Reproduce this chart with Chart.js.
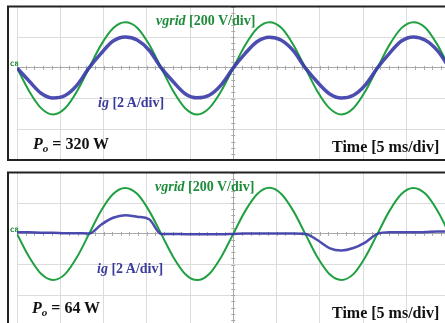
<!DOCTYPE html>
<html>
<head>
<meta charset="utf-8">
<script src="https://cdn.jsdelivr.net/npm/chart.js@4.4.1/dist/chart.umd.min.js"></script>
<style>
  body { margin: 0; width: 445px; height: 323px; overflow: hidden; background: #fff; position: relative; font-family: "Liberation Serif", "Times New Roman", serif; }
  .panel { position: absolute; left: 0; width: 452px; height: 166px; }
  .lbl { position: absolute; font-weight: bold; white-space: nowrap; line-height: 1; }
  .green { color: #1e8c3a; font-size: 14px; }
  .blue { color: #3b3b9c; font-size: 14px; }
  .black { color: #111; font-size: 16px; }
  .ch { position: absolute; color: #1e8c3a; font: bold 6px "DejaVu Sans", sans-serif; }
  sub { font-size: 11px; vertical-align: -3px; }
</style>
</head>
<body>

<canvas id="scope1" class="panel" width="452" height="166" style="top:0"></canvas>
<canvas id="scope2" class="panel" width="452" height="166" style="top:166px"></canvas>

<div class="ch" style="left:10px; top:60px">C8</div>
<div class="lbl green" style="left:156px; top:14px"><i>vgrid</i> [200 V/div]</div>
<div class="lbl blue" style="left:98px; top:96px"><i>ig</i> [2 A/div]</div>
<div class="lbl black" style="left:33px; top:136px"><i>P<sub>o</sub></i> = 320 W</div>
<div class="lbl black" style="left:332px; top:139px">Time [5 ms/div]</div>

<div class="ch" style="left:10px; top:226px">C8</div>
<div class="lbl green" style="left:155px; top:180px"><i>vgrid</i> [200 V/div]</div>
<div class="lbl blue" style="left:97px; top:262px"><i>ig</i> [2 A/div]</div>
<div class="lbl black" style="left:32px; top:300px"><i>P<sub>o</sub></i> = 64 W</div>
<div class="lbl black" style="left:332px; top:305px">Time [5 ms/div]</div>

<script>
// screen: 10 time divisions, 5 ms/div; vertical crop from -3 to +2 divisions
const timeDiv = 5;        // ms per division
const voltDiv = 200;      // V per division
const ampDiv = 2;         // A per division

// sample times (ms)
const timeMs = [0, 1.39, 2.78, 4.17, 5.56, 6.94, 8.33, 9.72, 11.11, 12.5, 13.89, 15.28, 16.67,
  18.06, 19.44, 20.83, 22.22, 23.61, 25, 26.39, 27.78, 29.17, 30.56, 31.94, 33.33,
  34.72, 36.11, 37.5, 38.89, 40.28, 41.67, 43.06, 44.44, 45.83, 47.22, 48.61, 50];

// Po = 320 W
const vgrid320 = [0, -150, -262, -303, -263, -152, 0, 150, 258, 297, 262, 152, 0,
  -151, -263, -304, -262, -150, 0, 149, 258, 298, 261, 151, 0,
  -152, -262, -303, -263, -151, 0, 150, 259, 298, 262, 150, 0];
const ig320 = [0, -0.85, -1.65, -1.96, -1.8, -1.12, 0, 0.95, 1.75, 2.02, 1.82, 1.15, 0,
  -0.9, -1.68, -1.95, -1.78, -1.1, 0, 0.95, 1.72, 2.0, 1.8, 1.12, 0,
  -0.92, -1.68, -1.96, -1.78, -1.1, 0, 0.95, 1.75, 2.02, 1.8, 1.12, 0];

// Po = 64 W
const vgrid64 = [0, -149, -260, -300, -262, -151, 0, 151, 260, 299, 261, 150, 0,
  -150, -261, -301, -261, -150, 0, 150, 260, 300, 260, 150, 0,
  -151, -261, -300, -262, -150, 0, 150, 260, 299, 261, 151, 0];
const ig64 = [0.1, 0.1, 0.08, 0.08, 0.05, 0.05, 0.02, 0.6, 1.05, 1.22, 1.12, 0.95, 0,
  0, -0.02, -0.03, -0.02, -0.02, 0, 0.02, 0.02, 0.02, 0.02, 0.02, 0,
  -0.4, -0.92, -1.08, -0.92, -0.55, 0, 0.1, 0.1, 0.1, 0.12, 0.15, 0.15];

const gridLight = "#dcdcdc";
const gridCenter = "#a9a9a9";

// frame + minor ticks on the centre axes
const scopeDecor = {
  id: "scopeDecor",
  beforeDatasetsDraw(chart) {
    const { ctx, scales } = chart;
    const x = scales.x, y = scales.y;
    const y0 = y.getPixelForValue(0);
    const xc = x.getPixelForValue(25);
    ctx.save();
    ctx.strokeStyle = gridCenter;
    ctx.lineWidth = 1;
    ctx.beginPath();
    for (let t = 0; t <= 50; t += timeDiv / 5) {
      const px = Math.round(x.getPixelForValue(t)) + 0.5;
      ctx.moveTo(px, y0 - 2);
      ctx.lineTo(px, y0 + 2);
    }
    for (let v = -3 * voltDiv; v <= 2 * voltDiv; v += voltDiv / 5) {
      const py = Math.round(y.getPixelForValue(v)) + 0.5;
      ctx.moveTo(xc - 2, py);
      ctx.lineTo(xc + 2, py);
    }
    ctx.stroke();
    ctx.restore();
  },
  afterDraw(chart) {
    const { ctx, chartArea } = chart;
    ctx.save();
    ctx.strokeStyle = "#222";
    ctx.lineWidth = 2;
    ctx.beginPath();
    ctx.moveTo(chart.width, chartArea.top);
    ctx.lineTo(8, chartArea.top);
    ctx.lineTo(8, chartArea.bottom);
    ctx.lineTo(chart.width, chartArea.bottom);
    ctx.stroke();
    ctx.restore();
  }
};

function makeScope(id, vgrid, ig, igWidth) {
  const ctx = document.querySelector(id).getContext("2d");
  return new Chart(ctx, {
    type: "line",
    data: {
      datasets: [
        {
          label: "ig",
          data: timeMs.map((t, i) => ({ x: t, y: ig[i] })),
          yAxisID: "y2",
          borderColor: "rgba(58, 58, 168, 0.9)",
          borderWidth: igWidth,
          cubicInterpolationMode: "monotone",
          pointRadius: 0,
        },
        {
          label: "vgrid",
          data: timeMs.map((t, i) => ({ x: t, y: vgrid[i] })),
          yAxisID: "y",
          borderColor: "#20a040",
          borderWidth: 2,
          cubicInterpolationMode: "monotone",
          pointRadius: 0,
        }
      ]
    },
    options: {
      responsive: false,
      animation: false,
      layout: { padding: { left: 17, right: 2.5, top: 6.5, bottom: 6 } },
      plugins: { legend: { display: false }, tooltip: { enabled: false } },
      scales: {
        x: {
          type: "linear", min: 0, max: 10 * timeDiv,
          ticks: { display: false, stepSize: timeDiv },
          border: { display: false },
          grid: { drawTicks: false, color: c => c.tick && c.tick.value === 25 ? gridCenter : gridLight }
        },
        y: {
          min: -3 * voltDiv, max: 2 * voltDiv,
          ticks: { display: false, stepSize: voltDiv },
          border: { display: false },
          grid: { drawTicks: false, color: c => c.tick && c.tick.value === 0 ? gridCenter : gridLight }
        },
        y2: { display: false, min: -3 * ampDiv, max: 2 * ampDiv }
      }
    },
    plugins: [scopeDecor]
  });
}

makeScope("#scope1", vgrid320, ig320, 3.5);
makeScope("#scope2", vgrid64, ig64, 2.5);
</script>
</body>
</html>
